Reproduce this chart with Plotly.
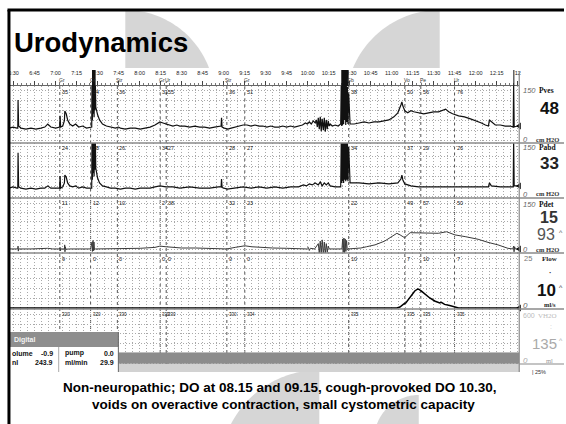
import math
import plotly.graph_objects as go

W, H = 566, 424


def fx(p):
    return p / W


def fy(p):
    return 1 - p / H


# ---------------- data ----------------
# time axis: minutes after 6:30
time_ticks = [0, 15, 30, 45, 60, 75, 90, 105, 120, 135, 150, 165, 180, 195,
              210, 225, 240, 255, 270, 285, 300, 315, 330, 345, 360]
time_labels = ["6:30", "6:45", "7:00", "7:15", "7:30", "7:45", "8:00", "8:15",
               "8:30", "8:45", "9:00", "9:15", "9:30", "9:45", "10:00", "10:15",
               "10:30", "10:45", "11:00", "11:15", "11:30", "11:45", "12:00",
               "12:15", "12"]

event_t = [33.0, 55.0, 74.1, 104.7, 109.0, 152.3, 165.1, 239.3, 279.4, 290.8, 314.9]
event_names = ["Gr", "Gr", "Str", "Gr", "Ur", "Str", "Gr", "Gb", "Vo", "Pe", "Ur"]
ev_pves = ["35", "34", "36", "31", "55", "36", "51", "38", "50", "56", "76"]
ev_pabd = ["24", "28", "26", "34", "27", "28", "27", "34", "37", "29", "26"]
ev_pdet = ["11", "12", "10", "2", "38", "32", "23", "22", "49", "57", "50"]
ev_flow = ["9", "0", "0", "0", "0", "0", "0", "10", "7", "10", "7"]
ev_vol = ["320", "320", "330", "330", "330", "330", "334", "335", "335", "335", "335"]

# overflow bursts drawn above the ruler (start, end minutes)
burst_spans = [(56.0, 58.6), (234.0, 239.3), (356.9, 357.6)]

# (minutes, cm H2O)
pves = [(-3.3, 38), (-0.4, 41), (2.4, 38), (3.0, 38), (3.2, 121), (3.6, 44), (5.3, 38), (8.8, 35), (12.4, 38), (15.9, 35),
        (19.5, 38), (22.3, 41), (24.4, 50), (26.6, 41), (30.1, 38), (32.9, 41), (33.2, 74), (33.6, 41), (35.1, 44), (36.3, 60),
        (36.6, 88), (37.6, 80), (38.6, 62), (40.1, 50), (42.2, 44), (44.3, 50), (46.5, 41), (49.3, 44), (52.1, 38), (55.0, 41),
        (55.8, 41), (56.0, 170), (56.3, 60), (56.6, 170), (56.9, 80), (57.2, 170), (57.5, 70), (57.8, 170), (58.1, 90), (58.4, 170),
        (58.7, 100), (59.2, 91), (60.0, 77), (61.4, 62), (63.5, 50), (66.3, 44), (69.2, 41), (72.7, 38), (74.8, 41), (76.3, 38),
        (79.8, 35), (83.3, 38), (86.9, 38), (90.4, 35), (93.9, 38), (97.5, 41), (101.0, 47), (104.5, 56), (106.7, 53), (108.8, 50),
        (111.6, 47), (113.8, 44), (116.6, 47), (118.7, 44), (122.3, 44), (125.8, 41), (129.4, 44), (132.9, 41), (136.4, 41), (140.0, 38),
        (143.5, 41), (146.3, 44), (148.2, 44), (148.5, 68), (148.9, 41), (150.5, 38), (153.0, 35), (155.4, 38), (158.3, 41), (161.1, 44),
        (163.9, 47), (166.7, 47), (169.6, 44), (172.4, 47), (175.2, 44), (178.0, 44), (180.9, 41), (183.7, 44), (186.5, 41), (189.4, 41),
        (192.2, 44), (195.0, 41), (197.8, 44), (200.6, 41), (203.5, 44), (206.3, 47), (208.4, 53), (209.8, 50), (211.2, 56), (212.6, 50),
        (214.0, 59), (215.4, 53), (216.2, 62), (216.9, 41), (217.6, 68), (218.3, 35), (219.0, 71), (219.7, 29), (220.4, 65), (221.2, 32),
        (221.9, 68), (222.6, 27), (223.3, 62), (224.0, 35), (224.7, 59), (225.4, 44), (226.1, 50), (227.6, 44), (229.7, 47), (231.8, 44),
        (233.6, 50), (234.0, 170), (234.3, 44), (234.7, 170), (235.0, 47), (235.4, 170), (235.7, 50), (236.1, 170), (236.4, 62), (236.8, 170),
        (237.2, 47), (237.6, 170), (238.0, 56), (238.4, 160), (238.8, 50), (239.3, 140), (240.3, 50), (243.2, 50), (246.7, 53), (250.3, 56),
        (253.8, 53), (257.4, 56), (260.9, 56), (264.5, 59), (268.0, 62), (271.6, 71), (274.4, 83), (276.6, 106), (277.3, 115), (278.0, 103),
        (279.4, 89), (281.5, 83), (283.7, 89), (285.8, 86), (289.3, 83), (292.9, 80), (296.4, 83), (300.0, 86), (303.5, 86), (306.4, 91),
        (308.5, 94), (310.7, 86), (313.5, 80), (317.8, 74), (322.0, 71), (326.3, 65), (330.5, 59), (334.1, 53), (336.9, 47), (339.1, 44),
        (339.8, 62), (341.2, 56), (344.0, 47), (347.6, 47), (351.1, 44), (354.7, 44), (356.8, 41), (357.1, 170), (357.5, 41), (359.7, 44),
        (361.1, 44)]

pabd = [(-3.3, 24), (-0.4, 28), (2.4, 24), (3.0, 24), (3.2, 132), (3.6, 28), (5.3, 24), (8.8, 21), (12.4, 24), (15.9, 21),
        (19.5, 24), (22.3, 24), (24.4, 31), (26.6, 24), (30.1, 24), (32.9, 24), (33.2, 61), (33.6, 24), (35.1, 28), (36.3, 40),
        (36.6, 64), (37.6, 58), (38.6, 40), (40.1, 31), (42.2, 28), (44.3, 31), (46.5, 24), (49.3, 28), (52.1, 24), (55.0, 24),
        (55.8, 24), (56.0, 170), (56.3, 50), (56.6, 170), (56.9, 70), (57.2, 170), (57.5, 60), (57.8, 170), (58.1, 80), (58.4, 170),
        (58.7, 85), (59.2, 70), (60.0, 55), (61.4, 40), (63.5, 31), (66.3, 28), (69.2, 24), (72.7, 24), (76.3, 21), (79.8, 24),
        (83.3, 24), (86.9, 21), (90.4, 24), (93.9, 24), (97.5, 24), (101.0, 28), (104.5, 31), (108.8, 28), (113.8, 28), (118.7, 24),
        (125.8, 28), (132.9, 24), (140.0, 24), (146.3, 28), (148.2, 28), (148.5, 52), (148.9, 26), (152.6, 21), (158.3, 24), (163.9, 28),
        (169.6, 24), (175.2, 28), (180.9, 24), (186.5, 28), (192.2, 24), (197.8, 28), (203.5, 28), (207.0, 34), (209.1, 31), (211.2, 37),
        (213.3, 34), (215.4, 40), (217.6, 34), (219.0, 43), (220.4, 31), (221.9, 40), (223.3, 34), (224.7, 40), (226.1, 31), (229.7, 28),
        (233.6, 28), (234.0, 170), (234.3, 40), (234.7, 170), (235.0, 45), (235.4, 170), (235.7, 40), (236.1, 170), (236.4, 50), (236.8, 170),
        (237.2, 45), (237.6, 170), (238.0, 50), (238.4, 170), (238.8, 45), (239.3, 150), (240.3, 40), (246.7, 40), (253.8, 37), (260.9, 40),
        (268.0, 37), (274.4, 40), (276.6, 52), (277.3, 64), (278.0, 49), (279.4, 37), (283.7, 31), (289.3, 28), (296.4, 28), (303.5, 28),
        (310.7, 28), (317.8, 28), (326.3, 28), (334.1, 28), (339.1, 28), (339.8, 40), (341.2, 31), (347.6, 28), (354.7, 28), (356.8, 28),
        (357.1, 170), (357.5, 31), (361.1, 31)]

pdet = [(-3.3, 3), (2.4, 3), (3.0, 3), (3.2, 12), (3.4, -4), (3.6, 3), (12.4, 3), (24.4, 5), (28.0, 3), (32.9, 3),
        (33.2, 8), (33.5, -3), (33.8, 3), (36.3, 3), (36.5, 16), (36.7, -6), (37.0, 10), (37.3, 2), (40.1, 3), (55.0, 3),
        (56.0, 25), (56.3, -5), (56.7, 30), (57.0, -3), (57.4, 25), (57.8, 0), (58.5, 3), (74.1, 3), (90.4, 5), (101.0, 8),
        (104.5, 12), (108.8, 10), (113.8, 8), (120.0, 6), (130.0, 6), (140.0, 5), (148.5, 4), (152.3, 3), (158.3, 8), (162.0, 12),
        (165.1, 13), (170.0, 10), (176.0, 8), (185.0, 6), (195.0, 5), (205.0, 4), (209.1, 3), (210.5, 8), (211.2, -2), (212.0, 5),
        (215.0, 3), (217.6, 20), (218.3, -10), (219.0, 28), (219.7, -14), (220.4, 32), (221.2, -16), (221.9, 25), (222.6, -12), (223.3, 20),
        (224.0, -8), (224.7, 12), (225.4, 3), (230.0, 3), (234.5, 3), (235.0, 35), (235.4, -8), (235.9, 38), (236.3, -12), (236.8, 35),
        (237.3, -5), (237.8, 30), (238.3, 0), (239.0, 3), (242.0, 4), (248.0, 6), (252.0, 10), (258.1, 16), (265.0, 28), (270.2, 44),
        (273.7, 53), (276.0, 48), (279.2, 39), (283.2, 55), (290.0, 54), (297.0, 53), (303.3, 53), (309.2, 58), (315.1, 48), (323.0, 42),
        (331.7, 34), (338.8, 24), (345.9, 16), (353.0, 5), (356.5, 3), (357.1, 12), (357.4, -6), (357.8, 10), (358.3, 3), (361.1, 3)]

# (minutes, ml/s)
flow = [(-3.3, 0), (273.7, 0), (275.9, 0.5), (277.3, 1.5), (278.7, 2.0), (280.1, 2.5), (282.3, 4.5), (283.7, 6.0),
        (286.5, 8.5), (288.6, 9.5), (289.3, 9.4), (291.5, 8.3), (294.3, 6.5), (297.2, 5.0), (300.7, 3.5), (304.3, 2.5),
        (305.5, 2.8), (307.8, 1.8), (311.4, 1.2), (314.9, 0.5), (317.8, 0), (361.1, 0)]

# (minutes, ml)
volume = [(-3.3, 135), (100.0, 135), (200.0, 135), (300.0, 135), (361.1, 135)]

# right-hand readouts
read_pves, read_pabd, read_pdet, read_pdet_max = "48", "33", "15", "93"
read_flow_max, read_vol = "10", "135"
dig_volume, dig_ml, dig_pump, dig_mlmin = "-0.9", "243.9", "0.0", "29.9"

title = "Urodynamics"
caption = ["Non-neuropathic; DO at 08.15 and 09.15, cough-provoked DO 10.30,",
           "voids on overactive contraction, small cystometric capacity"]

# ---------------- figure ----------------
XD = [fx(8), fx(521)]
XR = [-3.3, 361.1]
GRID = "#a9a9a9"
SANS = "Liberation Sans, Arial, sans-serif"
SERIF = "Liberation Serif, Times New Roman, serif"

panels = [
    dict(key="", top=86, bot=143, rng=[-6, 162], dt=30, data=pves, color="#111", width=1.2),
    dict(key="2", top=143, bot=198, rng=[-6, 162], dt=30, data=pabd, color="#111", width=1.2),
    dict(key="3", top=198, bot=253, rng=[-10, 166], dt=30, data=pdet, color="#3a3a3a", width=1.0),
    dict(key="4", top=253, bot=309, rng=[-0.5, 27.5], dt=5, data=flow, color="#000", width=1.5),
    dict(key="5", top=309, bot=371, rng=[-86, 661], dt=120, data=volume, color="#8c8c8c", width=0),
]

fig = go.Figure()
layout = dict(width=W, height=H, margin=dict(l=0, r=0, t=0, b=0), autosize=False,
              paper_bgcolor="white", plot_bgcolor="rgba(0,0,0,0)", showlegend=False,
              font=dict(family=SANS, color="#000"))

for i, p in enumerate(panels):
    xa = "xaxis" + p["key"]
    ya = "yaxis" + p["key"]
    xref = "x" + p["key"]
    yref = "y" + p["key"]
    layout[xa] = dict(domain=XD, range=XR, anchor=yref, showticklabels=False, ticks="",
                      showgrid=True, gridcolor=GRID, griddash="1px,2px", gridwidth=1,
                      tick0=0, dtick=5, zeroline=False, showline=False)
    if p["key"]:
        layout[xa]["matches"] = "x"
    layout[ya] = dict(domain=[fy(p["bot"]), fy(p["top"])], range=p["rng"], anchor=xref,
                      showticklabels=False, ticks="", showgrid=True, gridcolor=GRID,
                      griddash="1px,2px", gridwidth=1, tick0=0, dtick=p["dt"],
                      zeroline=False, showline=False)
    t, v = zip(*p["data"])
    if p["key"] == "5":
        fig.add_trace(go.Scatter(x=t, y=v, xaxis=xref, yaxis=yref, mode="lines",
                                 line=dict(color="#8c8c8c", width=0.5), fill="tozeroy",
                                 fillcolor="#8c8c8c", hoverinfo="skip"))
    else:
        fig.add_trace(go.Scatter(x=t, y=v, xaxis=xref, yaxis=yref, mode="lines",
                                 line=dict(color=p["color"], width=p["width"]), hoverinfo="skip"))
        fig.add_trace(go.Scatter(x=[t[-1]], y=[v[-1]], xaxis=xref, yaxis=yref, mode="markers",
                                 marker=dict(symbol="triangle-left", size=6, color="#000"),
                                 cliponaxis=False, hoverinfo="skip"))

# ruler axis on top
layout["yaxis6"] = dict(domain=[fy(86) - 0.002, fy(86)], range=[0, 1], visible=False)
layout["xaxis6"] = dict(domain=XD, range=XR, anchor="y6", side="top", showline=True,
                        linecolor="#666", linewidth=1, ticks="outside", ticklen=4, tickwidth=1,
                        tickcolor="#444", tickmode="array", tickvals=time_ticks, ticktext=time_labels,
                        tickfont=dict(size=5.5, color="#222", family=SANS), ticklabelstandoff=4,
                        minor=dict(ticks="outside", ticklen=2, tickcolor="#777", tickmode="array",
                                   tickvals=[m for m in range(-3, 362, 3)]),
                        showgrid=False, zeroline=False)
fig.add_trace(go.Scatter(x=XR, y=[0.5, 0.5], xaxis="x6", yaxis="y6", mode="lines",
                         opacity=0, hoverinfo="skip"))

shapes = []


def arc_path(cx, cy, r, a0, a1, n=48):
    pts = []
    for k in range(n + 1):
        a = math.radians(a0 + (a1 - a0) * k / n)
        pts.append((cx + r * math.cos(a), cy + r * math.sin(a)))
    pts.append((cx, cy))
    return "M " + " L ".join(f"{fx(x):.5f},{fy(y):.5f}" for x, y in pts) + " Z"


WM = "#d6d6d6"
for cx, cy, r, a0, a1 in [(125, 100, 90, -90, 0), (441, 104.5, 94.5, 180, 270),
                          (320, 470, 100, 180, 270), (420, 440, 45, 180, 270)]:
    shapes.append(dict(type="path", path=arc_path(cx, cy, r, a0, a1), xref="paper", yref="paper",
                       fillcolor=WM, line=dict(width=0), layer="below"))
# white chart panel
shapes.append(dict(type="rect", xref="paper", yref="paper", x0=fx(8), x1=fx(566), y0=fy(372), y1=fy(68),
                   fillcolor="white", line=dict(width=0), layer="below"))
# event lines
for t in event_t:
    shapes.append(dict(type="line", xref="x", yref="paper", x0=t, x1=t, y0=fy(371), y1=fy(82),
                       line=dict(color="#555", width=1, dash="dot"), layer="below"))
# bursts above the ruler
for a, b in burst_spans:
    shapes.append(dict(type="rect", xref="x", yref="paper", x0=a, x1=b, y0=fy(86), y1=fy(70),
                       fillcolor="#111", line=dict(width=0), layer="above"))
# light strip under volume
shapes.append(dict(type="rect", xref="paper", yref="paper", x0=fx(8), x1=fx(521), y0=fy(372), y1=fy(364),
                   fillcolor="#d2d2d2", line=dict(width=0), layer="above"))
# separators
for yy in [143, 198, 253, 309]:
    shapes.append(dict(type="line", xref="paper", yref="paper", x0=fx(8), x1=fx(566), y0=fy(yy), y1=fy(yy),
                       line=dict(color="#8a8a8a", width=1.5), layer="above"))
shapes.append(dict(type="line", xref="paper", yref="paper", x0=fx(521), x1=fx(566), y0=fy(364), y1=fy(364),
                   line=dict(color="#8a8a8a", width=1.2), layer="above"))
shapes.append(dict(type="line", xref="paper", yref="paper", x0=fx(521), x1=fx(521), y0=fy(372), y1=fy(72),
                   line=dict(color="#8a8a8a", width=1.2), layer="above"))
# digital box
shapes.append(dict(type="rect", xref="paper", yref="paper", x0=fx(8), x1=fx(118), y0=fy(347), y1=fy(332),
                   fillcolor="#8e8e8e", line=dict(width=0), layer="above"))
shapes.append(dict(type="rect", xref="paper", yref="paper", x0=fx(8), x1=fx(118), y0=fy(372), y1=fy(347),
                   fillcolor="white", line=dict(width=0), layer="above"))
shapes.append(dict(type="line", xref="paper", yref="paper", x0=fx(118), x1=fx(118), y0=fy(372), y1=fy(332),
                   line=dict(color="#666", width=1), layer="above"))
shapes.append(dict(type="line", xref="paper", yref="paper", x0=fx(58), x1=fx(58), y0=fy(372), y1=fy(347),
                   line=dict(color="#aaa", width=1), layer="above"))
# frame
shapes.append(dict(type="line", xref="paper", yref="paper", x0=fx(6.5), x1=fx(566), y0=fy(10), y1=fy(10),
                   line=dict(color="#000", width=3), layer="above"))
shapes.append(dict(type="line", xref="paper", yref="paper", x0=fx(8), x1=fx(8), y0=fy(424), y1=fy(10),
                   line=dict(color="#000", width=3), layer="above"))
layout["shapes"] = shapes

ann = []


def A(x, y, text, size, color="#000", xanchor="center", family=SANS, xref="paper"):
    ann.append(dict(x=x if xref != "paper" else fx(x), y=fy(y), xref=xref, yref="paper", text=text,
                    showarrow=False, xanchor=xanchor, yanchor="middle",
                    font=dict(size=size, color=color, family=family)))


# title & caption
A(11, 42, "<b>" + title + "</b>", 27.5, xanchor="left")
A(280, 387, "<b>" + caption[0] + "</b>", 13.5)
A(284, 404, "<b>" + caption[1] + "</b>", 13.5)

# event names and values
for k, t in enumerate(event_t):
    ann.append(dict(x=t, y=fy(79.5), xref="x", yref="paper", text=event_names[k], showarrow=False,
                    xanchor="center", yanchor="middle", xshift=2, font=dict(size=5, color="#333")))
    for top, labels, sz in [(92, ev_pves, 5.5), (148, ev_pabd, 5.5), (203, ev_pdet, 5.5),
                            (258.5, ev_flow, 5.5), (314, ev_vol, 4.5)]:
        ann.append(dict(x=t, y=fy(top), xref="x", yref="paper", text=labels[k], showarrow=False,
                        xanchor="left", yanchor="middle", xshift=0, font=dict(size=sz, color="#222")))

# right column
for top, name in [(90, "Pves"), (147.5, "Pabd"), (204.5, "Pdet")]:
    A(531, top, "<i>150</i>", 7.5, "#666")
    A(539, top, "<b>" + name + "</b>", 7.5, "#111", xanchor="left", family=SERIF)
for yy in [139.5, 194.5, 249.5]:
    A(527, yy, "<i>0</i>", 7.5, "#666")
    A(549, yy - 0.5, "<b>cm H2O</b>", 6.5, "#333", family=SERIF)
A(551, 108, "<b>" + read_pves + "</b>", 17, "#111")
A(551, 163, "<b>" + read_pabd + "</b>", 17, "#222")
A(551, 217, "<b>" + read_pdet + "</b>", 16, "#333")
A(548, 235, read_pdet_max, 16, "#555")
A(563, 232, "^", 7, "#555")
A(530, 258, "25", 7.5, "#777")
A(552, 259, "<b>Flow</b>", 7, "#222", family=SERIF)
A(552, 272, "<b>·</b>", 8, "#333")
A(548, 290, "<b>" + read_flow_max + "</b>", 17, "#111")
A(563, 287, "^", 7, "#333")
A(527, 305, "<i>0</i>", 8, "#666")
A(552, 304, "<b>ml/s</b>", 6.5, "#222", family=SERIF)
A(531, 315, "600", 7, "#bbb")
A(549, 316, "VH2O", 7, "#bbb", family=SERIF)
A(553, 326, ":", 7, "#ccc")
A(546, 343, read_vol, 15, "#aaa")
A(563, 340, "^", 7, "#aaa")
A(527, 360, "<i>0</i>", 8, "#aaa")
A(551, 360, "ml", 6.5, "#999", family=SERIF)
A(532, 372, "| 25%", 5.5, "#333", xanchor="left")

# digital box text
A(11, 340, "<b>Digital</b>", 7, "#f4f4f4", xanchor="left")
A(9.5, 353, "<b>olume</b>", 7, "#111", xanchor="left")
A(9.5, 362, "<b>nl</b>", 7, "#111", xanchor="left")
A(54, 353, "<b>" + dig_volume + "</b>", 7, "#111", xanchor="right")
A(54, 362, "<b>" + dig_ml + "</b>", 7, "#111", xanchor="right")
A(62, 353, "<b>pump</b>", 7, "#111", xanchor="left")
A(62, 362, "<b>ml/min</b>", 7, "#111", xanchor="left")
A(116, 353, "<b>" + dig_pump + "</b>", 7, "#111", xanchor="right")
A(116, 362, "<b>" + dig_mlmin + "</b>", 7, "#111", xanchor="right")

layout["annotations"] = ann
fig.update_layout(**layout)
fig.write_html("out.html", config={"displayModeBar": False},
               post_script="document.body.style.margin='0';document.body.style.overflow='hidden';")
